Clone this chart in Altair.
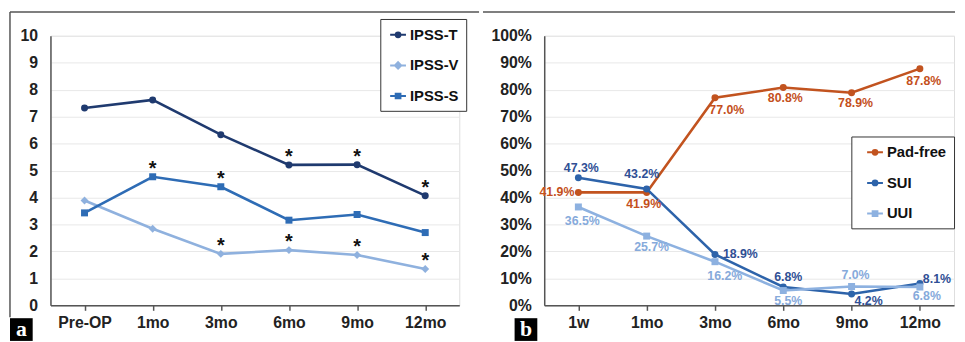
import altair as alt
import pandas as pd

# ---------------- data: panel a ----------------
periods_a = ["Pre-OP", "1mo", "3mo", "6mo", "9mo", "12mo"]
series_a = ["IPSS-T", "IPSS-V", "IPSS-S"]
ipss_t = [7.32, 7.62, 6.33, 5.21, 5.22, 4.07]
ipss_v = [3.89, 2.84, 1.91, 2.05, 1.87, 1.35]
ipss_s = [3.43, 4.77, 4.40, 3.16, 3.37, 2.70]
sig_t = [0, 0, 0, 1, 1, 1]
sig_v = [0, 0, 1, 1, 1, 1]
sig_s = [0, 1, 1, 0, 0, 0]

# ---------------- data: panel b ----------------
periods_b = ["1w", "1mo", "3mo", "6mo", "9mo", "12mo"]
series_b = ["Pad-free", "SUI", "UUI"]
pad_free = [41.9, 41.9, 77.0, 80.8, 78.9, 87.8]
sui = [47.3, 43.2, 18.9, 6.8, 4.2, 8.1]
uui = [36.5, 25.7, 16.2, 5.5, 7.0, 6.8]

# ---------------- tables ----------------
df_a = pd.DataFrame({
    "period": periods_a * 3,
    "series": [s for s in series_a for _ in periods_a],
    "value": ipss_t + ipss_v + ipss_s,
    "sig": sig_t + sig_v + sig_s,
})
df_b = pd.DataFrame({
    "period": periods_b * 3,
    "series": [s for s in series_b for _ in periods_b],
    "value": pad_free + sui + uui,
})
one = pd.DataFrame({"k": [0]})

FONT = "Liberation Sans"
AX = "#555555"

# ---------------- styles ----------------
style_a = {
    "IPSS-T": dict(color="#1f3a6f", shape="circle", size=50),
    "IPSS-V": dict(color="#8fb1de", shape="diamond", size=64),
    "IPSS-S": dict(color="#2e6cb5", shape="square", size=50),
}
style_b = {
    "Pad-free": dict(color="#c2531f", shape="circle", size=50, text="#c4501c"),
    "SUI": dict(color="#2d63aa", shape="circle", size=50, text="#2f4f95"),
    "UUI": dict(color="#8db1e0", shape="square", size=50, text="#86aadb"),
}

P_CIRCLE = ("M-1,0L1,0 M-0.3,0A0.3,0.3 0 1,0 0.3,0A0.3,0.3 0 1,0 -0.3,0Z "
            "M-0.1,0A0.1,0.1 0 1,0 0.1,0A0.1,0.1 0 1,0 -0.1,0Z")
P_DIAMOND = "M-1,0L1,0 M0,-0.4L0.4,0L0,0.4L-0.4,0Z M0,-0.15L0.15,0L0,0.15L-0.15,0Z"
P_SQUARE = "M-1,0L1,0 M-0.3,-0.3H0.3V0.3H-0.3Z M-0.1,-0.1H0.1V0.1H-0.1Z"

# label placement for panel b: (align, dx, dy)
place_b = {
    ("Pad-free", "1w"): ("right", -4, 0),
    ("Pad-free", "1mo"): ("center", -3, 12),
    ("Pad-free", "3mo"): ("center", 12, 12),
    ("Pad-free", "6mo"): ("center", 2, 11),
    ("Pad-free", "9mo"): ("center", 4, 11),
    ("Pad-free", "12mo"): ("center", 4, 13),
    ("SUI", "1w"): ("center", 3, -10),
    ("SUI", "1mo"): ("center", -5, -15),
    ("SUI", "3mo"): ("left", 8, 0),
    ("SUI", "6mo"): ("center", 5, -10),
    ("SUI", "9mo"): ("left", 3, 7),
    ("SUI", "12mo"): ("left", 3, -5),
    ("UUI", "1w"): ("center", 4, 14),
    ("UUI", "1mo"): ("center", 5, 11),
    ("UUI", "3mo"): ("center", 10, 15),
    ("UUI", "6mo"): ("center", 5, 11),
    ("UUI", "9mo"): ("center", 4, -12),
    ("UUI", "12mo"): ("center", 7, 9),
}


def xenc(periods):
    return alt.X("period:N", sort=periods,
                 scale=alt.Scale(type="point", domain=periods, padding=0.5),
                 axis=alt.Axis(title=None, labelAngle=0, labelFont=FONT, labelFontSize=16,
                               labelFontWeight="bold", labelColor="#222222",
                               domainColor=AX, domainWidth=1.5, tickColor=AX, tickWidth=1.5,
                               tickSize=5, labelPadding=4, grid=False))


def yenc(domain, values, expr=None):
    kw = dict(title=None, values=values, ticks=False, labelPadding=13, labelFont=FONT,
              labelFontSize=16, labelFontWeight="bold", labelColor="#222222",
              domainColor=AX, domainWidth=1.5, grid=True, gridColor="#e8e8e8", gridWidth=1)
    if expr:
        kw["labelExpr"] = expr
    return alt.Y("value:Q", scale=alt.Scale(domain=domain, nice=False),
                 axis=alt.Axis(**kw))


def series_layers(df, series, styles, X, Y):
    out = []
    for s in series:
        st = styles[s]
        base = alt.Chart(df).transform_filter(alt.datum.series == s)
        out.append(base.mark_line(color=st["color"], strokeWidth=2.6).encode(x=X, y=Y))
        out.append(base.mark_point(filled=True, shape=st["shape"], size=st["size"],
                                   color=st["color"], opacity=1).encode(x=X, y=Y))
    return out


def legend_layer(series, colors, paths, lx, ly, sym_off, pad):
    leg = alt.Legend(title=None, orient="none", legendX=lx, legendY=ly,
                     labelFont=FONT, labelFontSize=15, labelFontWeight="bold",
                     labelColor="#111111", symbolSize=256, symbolStrokeWidth=2,
                     symbolOffset=sym_off, labelOffset=3, rowPadding=14, padding=pad,
                     strokeColor="#333333", fillColor="white")
    return alt.Chart(pd.DataFrame({"series": series})).transform_filter("false").mark_point(
        filled=False, opacity=1, strokeWidth=2, size=256
    ).encode(
        color=alt.Color("series:N", scale=alt.Scale(domain=series, range=colors), legend=leg),
        shape=alt.Shape("series:N", scale=alt.Scale(domain=series, range=paths), legend=leg),
    )


def frame_layers(left, right, draw_left, box_x, letter):
    rule = alt.Chart(one).mark_rule(color=AX, strokeWidth=1.5)
    out = [rule.encode(x=alt.value(left), x2=alt.value(right), y=alt.value(-24))]
    if draw_left:
        out.append(rule.encode(x=alt.value(left), y=alt.value(-24), y2=alt.value(285)))
    out.append(alt.Chart(one).mark_rect(color="black").encode(
        x=alt.value(box_x), x2=alt.value(box_x + 23), y=alt.value(286), y2=alt.value(309)))
    out.append(alt.Chart(one).mark_text(text=letter, color="white", font="Liberation Serif",
                                        fontSize=22, fontWeight="bold").encode(
        x=alt.value(box_x + 11.5), y=alt.value(297)))
    return out


# ---------------- panel a ----------------
Xa = xenc(periods_a)
Ya = yenc([0, 10], list(range(11)))
layers_a = series_layers(df_a, series_a, style_a, Xa, Ya)
layers_a.append(alt.Chart(df_a).transform_filter("datum.sig == 1").mark_text(
    text="*", baseline="alphabetic", dy=-2, fontSize=20, fontWeight="bold", font=FONT,
    color="#111111").encode(x=Xa, y=Ya))
layers_a.append(legend_layer(series_a, [style_a[s]["color"] for s in series_a],
                             [P_CIRCLE, P_DIAMOND, P_SQUARE], 334, -17, 2, 7))
layers_a += frame_layers(-41, 434, True, -41, "a")
panel_a = alt.layer(*layers_a).properties(width=414, height=273)

# ---------------- panel b ----------------
Xb = xenc(periods_b)
Yb = yenc([0, 100], list(range(0, 101, 10)), "datum.value + '%'")
layers_b = series_layers(df_b, series_b, style_b, Xb, Yb)
for (s, p), (align, dx, dy) in place_b.items():
    layers_b.append(
        alt.Chart(df_b)
        .transform_filter((alt.datum.series == s) & (alt.datum.period == p))
        .transform_calculate(lab="format(datum.value, '.1f') + '%'")
        .mark_text(align=align, baseline="middle", dx=dx, dy=dy, font=FONT, fontSize=12.5,
                   fontWeight="bold", color=style_b[s]["text"])
        .encode(x=Xb, y=Yb, text="lab:N")
    )
layers_b.append(legend_layer(series_b, [style_b[s]["color"] for s in series_b],
                             [P_CIRCLE, P_CIRCLE, P_SQUARE], 311, 102, 8, 7))
layers_b += frame_layers(-62, 416, False, -30, "b")
panel_b = alt.layer(*layers_b).properties(width=415, height=273)

chart = (
    alt.hconcat(panel_a, panel_b, spacing=0)
    .resolve_scale(color="independent", shape="independent")
    .properties(padding={"left": 0, "top": 0, "right": 0, "bottom": 0})
    .configure_view(stroke=None)
    .configure(font=FONT)
)

chart.save("out.html", embed_options={"renderer": "svg", "actions": False})
